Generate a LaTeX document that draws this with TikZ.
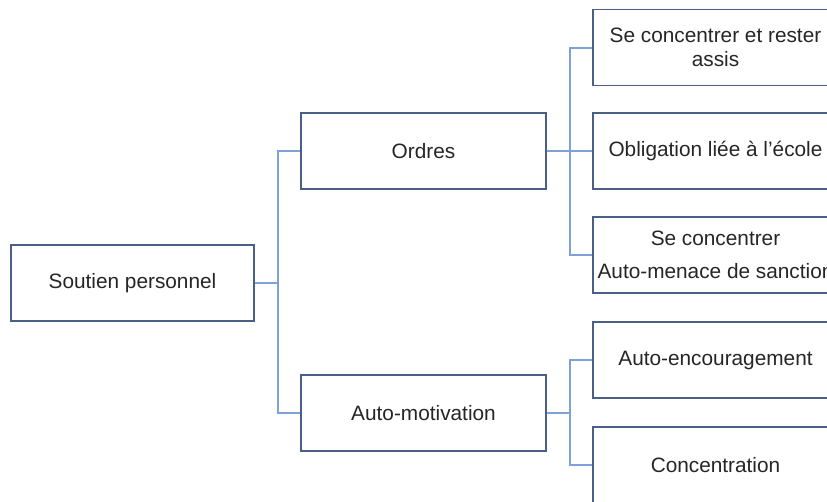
\documentclass[tikz,border=0pt]{standalone}
\usepackage{fontspec}
\setmainfont{Liberation Sans}
\usepackage{tikz}
\definecolor{boxline}{HTML}{4A5F85}
\definecolor{linkline}{HTML}{7FA1D9}
\tikzstyle{item} = [rectangle, text centered, draw=boxline, line width=1.1pt, fill=white, minimum width=182pt, minimum height=57pt, inner sep=2pt, font=\fontsize{15.6}{18}\selectfont, text=black!85]
\tikzstyle{link} = [draw=linkline, line width=1.5pt]

\begin{document}
\begin{tikzpicture}[x=0.75pt, y=-0.75pt]
    \clip (0,0) rectangle (827,501);
    \fill[white] (0,0) rectangle (827,501);

    \node (root) [item] at (132.5,283) {Soutien personnel};
    \node (ordres) [item, minimum width=184pt] at (423.5,151) {Ordres};
    \node (automot) [item, minimum width=184pt] at (423.5,413) {Auto-motivation};

    \node (assis) [item, minimum width=184pt, align=center] at (715.5,47.5) {Se concentrer et rester\\assis};
    \node (ecole) [item, minimum width=184pt] at (715.5,151) {Obligation liée à l'école};
    \node (sanction) [item, minimum width=184pt, align=center] at (715.5,255) {Se concentrer\\[7pt]Auto-menace de sanction};
    \node (encourag) [item, minimum width=184pt] at (715.5,360) {Auto-encouragement};
    \node (concentr) [item, minimum width=184pt] at (715.5,465) {Concentration};

    \coordinate (j1) at (278,283);
    \coordinate (j2) at (570,151);
    \coordinate (j3) at (570,413);

    \draw [link] (root) -- (j1) |- (ordres);
    \draw [link] (j1) |- (automot);

    \draw [link] (ordres) -- (ecole);
    \draw [link] (j2) |- (assis);
    \draw [link] (j2) |- (sanction);

    \draw [link] (automot) -- (j3);
    \draw [link] (j3) |- (encourag);
    \draw [link] (j3) |- (concentr);
\end{tikzpicture}
\end{document}
